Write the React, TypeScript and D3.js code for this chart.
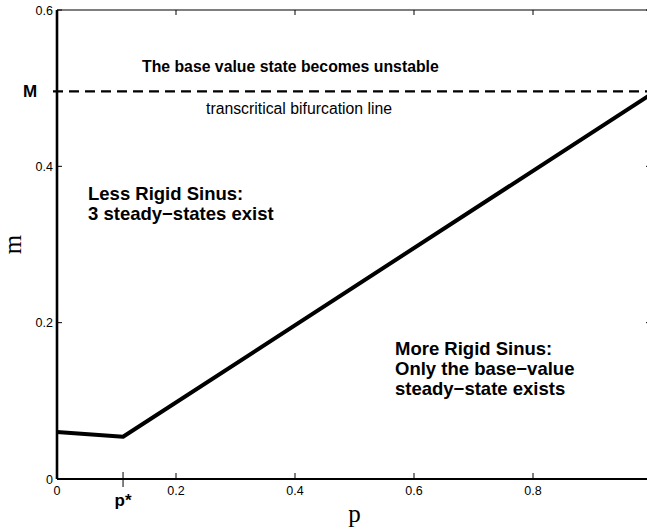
import React, { useEffect, useRef } from "react";
import * as d3 from "d3";

// bifurcation curve m(p)
const curveP = [0, 0.111, 1.0];
const curveM = [0.06, 0.054, 0.493];
const mCritical = 0.496;
const pStar = 0.111;

const xTicks = [0, 0.2, 0.4, 0.6, 0.8];
const xTickLabels = ["0", "0.2", "0.4", "0.6", "0.8"];
const yTicks = [0, 0.2, 0.4, 0.6];
const yTickLabels = ["0", "0.2", "0.4", "0.6"];

const topNote = "The base value state becomes unstable";
const lineNote = "transcritical bifurcation line";
const leftNote = ["Less Rigid Sinus:", "3 steady\u2212states exist"];
const rightNote = ["More Rigid Sinus:", "Only the base\u2212value", "steady\u2212state exists"];

const W = 647;
const H = 531;

const App = () => {
  const ref = useRef<SVGSVGElement>(null);

  useEffect(() => {
    const svg = d3.select(ref.current);
    svg.selectAll("*").remove();

    const margin = { top: 10, left: 57, bottom: 52 };
    const plotW = 595;

    const x = d3.scaleLinear().domain([0, 1]).range([margin.left, margin.left + plotW]);
    const y = d3.scaleLinear().domain([0, 0.6]).range([H - margin.bottom, margin.top]);

    const sans = "'Liberation Sans', Arial, Helvetica, sans-serif";
    const serif = "'Liberation Serif', 'Times New Roman', serif";

    // frame
    const x0 = x(0), x1 = x(1), y0 = y(0), y1 = y(0.6);
    svg.append("line").attr("x1", x0).attr("x2", x1).attr("y1", y1).attr("y2", y1)
      .attr("stroke", "#000").attr("stroke-width", 1.2);
    svg.append("line").attr("x1", x1).attr("x2", x1).attr("y1", y0).attr("y2", y1)
      .attr("stroke", "#000").attr("stroke-width", 1.2);

    // ticks (inward)
    xTicks.forEach((t) => {
      svg.append("line").attr("x1", x(t)).attr("x2", x(t)).attr("y1", y0).attr("y2", y0 - 6)
        .attr("stroke", "#000").attr("stroke-width", 1);
      svg.append("line").attr("x1", x(t)).attr("x2", x(t)).attr("y1", y1).attr("y2", y1 + 5)
        .attr("stroke", "#000").attr("stroke-width", 1);
    });
    yTicks.forEach((t) => {
      svg.append("line").attr("x1", x0).attr("x2", x0 + 5).attr("y1", y(t)).attr("y2", y(t))
        .attr("stroke", "#000").attr("stroke-width", 1);
      svg.append("line").attr("x1", x1).attr("x2", x1 - 6).attr("y1", y(t)).attr("y2", y(t))
        .attr("stroke", "#000").attr("stroke-width", 1);
    });

    // p* tick crosses the axis
    svg.append("line").attr("x1", x(pStar)).attr("x2", x(pStar)).attr("y1", y0 - 7).attr("y2", y0 + 8)
      .attr("stroke", "#000").attr("stroke-width", 1);

    // bottom and left axes
    svg.append("line").attr("x1", x0).attr("x2", x1).attr("y1", y0).attr("y2", y0)
      .attr("stroke", "#000").attr("stroke-width", 1.8);
    svg.append("line").attr("x1", x0).attr("x2", x0).attr("y1", y0).attr("y2", y1)
      .attr("stroke", "#000").attr("stroke-width", 2.6);

    // tick labels
    svg.append("g").selectAll("text").data(xTicks).join("text")
      .attr("x", (d) => x(d)).attr("y", y0 + 16)
      .attr("text-anchor", "middle")
      .style("font-family", sans).style("font-size", "12.5px")
      .text((d, i) => xTickLabels[i]);
    svg.append("g").selectAll("text").data(yTicks).join("text")
      .attr("x", x0 - 4).attr("y", (d) => y(d) + 4.5)
      .attr("text-anchor", "end")
      .style("font-family", sans).style("font-size", "12.5px")
      .text((d, i) => yTickLabels[i]);

    svg.append("text").attr("x", x(pStar)).attr("y", y0 + 27)
      .attr("text-anchor", "middle")
      .style("font-family", sans).style("font-size", "17px").style("font-weight", "bold")
      .text("p*");
    svg.append("text").attr("x", 30).attr("y", y(mCritical) + 6)
      .attr("text-anchor", "middle")
      .style("font-family", sans).style("font-size", "17px").style("font-weight", "bold")
      .text("M");

    // transcritical line
    svg.append("line").attr("x1", x0 - 4).attr("x2", x1).attr("y1", y(mCritical)).attr("y2", y(mCritical))
      .attr("stroke", "#000").attr("stroke-width", 2.2).attr("stroke-dasharray", "10,6");

    // curve
    const line = d3.line<number>().x((d) => x(d)).y((d, i) => y(curveM[i]));
    svg.append("path").datum(curveP).attr("d", line)
      .attr("fill", "none").attr("stroke", "#000").attr("stroke-width", 4)
      .attr("stroke-linejoin", "round");

    // annotations
    svg.append("text").attr("x", 142).attr("y", 72)
      .style("font-family", sans).style("font-size", "15.8px").style("font-weight", "bold")
      .text(topNote);
    svg.append("text").attr("x", 206).attr("y", 114)
      .style("font-family", sans).style("font-size", "15.8px")
      .text(lineNote);

    svg.append("g").selectAll("text").data(leftNote).join("text")
      .attr("x", 88).attr("y", (d, i) => 200 + i * 20)
      .style("font-family", sans).style("font-size", "18.5px").style("font-weight", "bold")
      .text((d) => d);
    svg.append("g").selectAll("text").data(rightNote).join("text")
      .attr("x", 395).attr("y", (d, i) => 355 + i * 20)
      .style("font-family", sans).style("font-size", "18.5px").style("font-weight", "bold")
      .text((d) => d);

    // axis titles
    svg.append("text").attr("x", (x0 + x1) / 2).attr("y", 522)
      .attr("text-anchor", "middle")
      .style("font-family", serif).style("font-size", "25px")
      .text("p");
    svg.append("text")
      .attr("transform", `translate(21,${(y0 + y1) / 2}) rotate(-90)`)
      .attr("text-anchor", "middle")
      .style("font-family", serif).style("font-size", "25px")
      .text("m");
  }, []);

  return (
    <svg
      ref={ref}
      width={W}
      height={H}
      style={{ position: "absolute", left: 0, top: 0, background: "#fff" }}
    />
  );
};

export default App;
